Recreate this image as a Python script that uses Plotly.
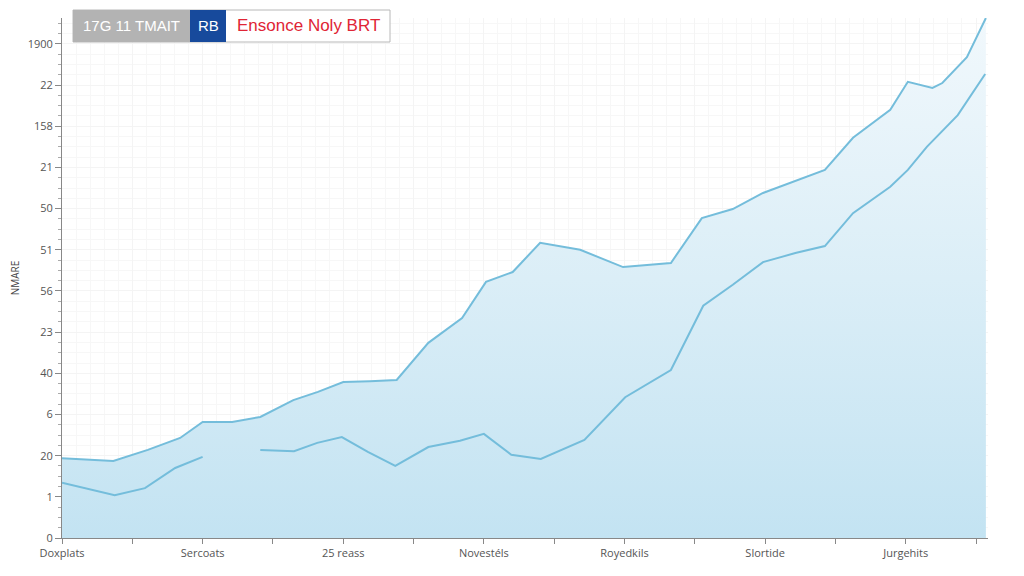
import plotly.graph_objects as go

# ---- data ----
upper_x = [0, 0.37, 0.73, 1.22, 1.68, 2.0, 2.42, 2.82, 3.29, 3.64, 4.0, 4.38, 4.76, 5.21, 5.69,
           6.03, 6.41, 6.80, 7.37, 7.98, 8.66, 9.10, 9.54, 9.97, 10.43, 10.85, 11.25, 11.78,
           12.03, 12.38, 12.52, 12.87, 13.14]
upper_y = [1.94, 1.90, 1.87, 2.14, 2.43, 2.82, 2.82, 2.94, 3.35, 3.55, 3.79, 3.81, 3.84, 4.74, 5.34,
           6.22, 6.46, 7.17, 7.00, 6.58, 6.68, 7.77, 7.99, 8.38, 8.67, 8.94, 9.72, 10.40,
           11.08, 10.93, 11.05, 11.68, 12.63]

lower_x = [0, 0.40, 0.75, 1.18, 1.61, 2.0, None, 2.82, 3.30, 3.63, 3.98, 4.35, 4.74, 5.21, 5.66,
           6.0, 6.39, 6.81, 7.43, 8.01, 8.22, 8.66, 9.12, 9.54, 9.97, 10.43, 10.85, 11.25, 11.78,
           12.03, 12.30, 12.74, 13.13]
lower_y = [1.34, 1.19, 1.04, 1.21, 1.70, 1.97, None, 2.14, 2.11, 2.31, 2.45, 2.09, 1.75, 2.21, 2.36,
           2.53, 2.02, 1.92, 2.38, 3.42, 3.64, 4.08, 5.64, 6.15, 6.70, 6.92, 7.09, 7.89, 8.53,
           8.94, 9.50, 10.27, 11.27]

y_tick_pos = list(range(13))
y_tick_text = ["0", "1", "20", "6", "40", "23", "56", "51", "50", "21", "158", "22", "1900"]

x_tick_pos = list(range(14))
x_label_text = {0: "Doxplats", 2: "Sercoats", 4: "25 reass", 6: "Novestéls",
                8: "Royedkils", 10: "Slortide", 12: "Jurgehits"}
x_tick_text = [x_label_text.get(i, "") for i in x_tick_pos]

title_grey = "17G 11 TMAIT"
title_blue = "RB"
title_red = "Ensonce Noly BRT"
y_title = "NMARE"

LINE = "#74bddb"

fig = go.Figure()
fig.add_trace(go.Scatter(
    x=upper_x, y=upper_y, mode="lines",
    line=dict(color=LINE, width=2),
    fill="tozeroy",
    fillgradient=dict(type="vertical", start=0, stop=12.6,
                      colorscale=[[0, "#c3e3f2"], [0.5, "#dbeef7"], [1, "#f1f8fc"]]),
    hoverinfo="skip", showlegend=False,
))
fig.add_trace(go.Scatter(
    x=lower_x, y=lower_y, mode="lines",
    line=dict(color=LINE, width=2),
    connectgaps=False, hoverinfo="skip", showlegend=False,
))

# page body adds an 8px offset; layout pixel coordinates compensate for it
OFF = 8
L, R, T, B = 62 - OFF, 36 + OFF, 18 - OFF, 38 + OFF
W = 1024 - L - R
H = 576 - T - B

def px_x(p):
    return (p - OFF - L) / W

def px_y(p):
    return (576 - B - (p - OFF)) / H

font_fam = "Open Sans, Liberation Sans, sans-serif"
fig.update_layout(
    width=1024, height=576,
    margin=dict(l=L, r=R, t=T, b=B, autoexpand=False),
    paper_bgcolor="white", plot_bgcolor="white",
    font=dict(family=font_fam, color="#555555", size=11),
    xaxis=dict(
        range=[0, 13.17], tickmode="array", tickvals=x_tick_pos, ticktext=x_tick_text,
        ticks="outside", ticklen=5, tickcolor="#888888", showline=True, linecolor="#888888",
        linewidth=1, showgrid=True, gridcolor="#f4f4f4", zeroline=False, automargin=False,
        tickfont=dict(size=11, color="#555555"),
        minor=dict(showgrid=True, gridcolor="#f7f7f7", dtick=0.2, ticks=""),
    ),
    yaxis=dict(
        range=[0, 12.63], tickmode="array", tickvals=y_tick_pos, ticktext=y_tick_text,
        ticks="outside", ticklen=6, tickcolor="#888888", showline=True, linecolor="#888888",
        linewidth=1, showgrid=True, gridcolor="#f4f4f4", zeroline=False, automargin=False,
        tickfont=dict(size=11, color="#555555"),
        title=dict(text=y_title, font=dict(size=10, color="#444444"), standoff=24),
        minor=dict(ticks="outside", ticklen=3, tickcolor="#aaaaaa", dtick=0.25,
                   showgrid=True, gridcolor="#f7f7f7"),
    ),
)

shapes = [
    dict(type="rect", xref="paper", yref="paper", x0=px_x(73), x1=px_x(390), y0=px_y(42), y1=px_y(10),
         line=dict(color="#b8b8b8", width=1), fillcolor="white", layer="above"),
    dict(type="rect", xref="paper", yref="paper", x0=px_x(73), x1=px_x(190), y0=px_y(42), y1=px_y(10),
         line=dict(width=0), fillcolor="#b3b3b3", layer="above"),
    dict(type="rect", xref="paper", yref="paper", x0=px_x(190), x1=px_x(226), y0=px_y(42), y1=px_y(10),
         line=dict(width=0), fillcolor="#174a9c", layer="above"),
]
fig.update_layout(shapes=shapes)
fig.add_annotation(xref="paper", yref="paper", x=px_x(131), y=px_y(26), text=title_grey,
                   showarrow=False, xanchor="center", yanchor="middle",
                   font=dict(size=15, color="white", family="Liberation Sans Narrow, Liberation Sans, sans-serif"))
fig.add_annotation(xref="paper", yref="paper", x=px_x(208), y=px_y(26), text=title_blue,
                   showarrow=False, xanchor="center", yanchor="middle",
                   font=dict(size=15, color="white", family="Liberation Sans Narrow, Liberation Sans, sans-serif"))
fig.add_annotation(xref="paper", yref="paper", x=px_x(308), y=px_y(26), text=title_red,
                   showarrow=False, xanchor="center", yanchor="middle",
                   font=dict(size=17, color="#e02535", family="Liberation Sans, sans-serif"))

fig.write_html("out.html")
